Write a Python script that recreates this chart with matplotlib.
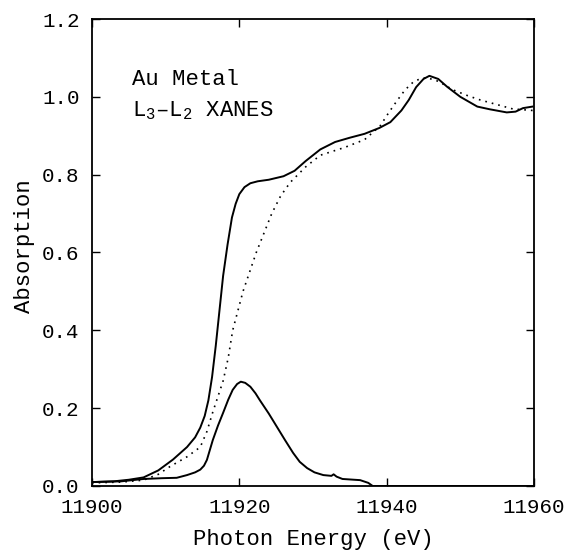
import matplotlib.pyplot as plt

plt.rcParams['font.family'] = ['Liberation Mono', 'DejaVu Sans Mono']
plt.rcParams['mathtext.fontset'] = 'custom'
plt.rcParams['mathtext.rm'] = 'Liberation Mono'
plt.rcParams['mathtext.it'] = 'Liberation Mono'

# Au metal L3 edge (solid), L2 edge (dotted) and their difference
energy_l3 = [11900, 11903, 11905, 11907, 11909, 11911, 11912.9, 11914, 11914.7,
             11915.3, 11915.8, 11916.3, 11916.8, 11917.3, 11917.8, 11918.4,
             11919, 11919.5, 11920, 11920.7, 11921.5, 11922.5, 11924, 11926,
             11927.5, 11929, 11931, 11933, 11935, 11937, 11939, 11940.5, 11942,
             11943, 11944, 11945, 11945.8, 11947, 11948.2, 11950, 11952.3,
             11954, 11956.3, 11957.5, 11958.5, 11959.8]
abs_l3 = [0.010, 0.012, 0.016, 0.022, 0.040, 0.068, 0.100, 0.125, 0.150,
          0.180, 0.220, 0.280, 0.360, 0.450, 0.540, 0.620,
          0.690, 0.725, 0.750, 0.768, 0.778, 0.783, 0.787, 0.796,
          0.810, 0.835, 0.865, 0.884, 0.895, 0.905, 0.920, 0.935, 0.965,
          0.992, 1.025, 1.046, 1.054, 1.046, 1.026, 1.000, 0.975,
          0.968, 0.960, 0.962, 0.971, 0.975]

energy_l2 = [11900, 11904, 11907, 11909, 11910.6, 11912.9, 11914.7, 11915.6,
             11916.4, 11917.1, 11917.8, 11918.5, 11919.1, 11920.5, 11922.3,
             11924.4, 11925.6, 11926.9, 11929, 11931, 11934.3, 11937, 11939.1,
             11940.3, 11941.4, 11942.5, 11943.6, 11944.6, 11945.5, 11947,
             11949, 11951, 11952.7, 11955, 11957.1, 11959.8]
abs_l2 = [0.008, 0.010, 0.015, 0.030, 0.050, 0.075, 0.100, 0.140,
          0.190, 0.230, 0.270, 0.330, 0.400, 0.500, 0.600,
          0.700, 0.745, 0.780, 0.820, 0.850, 0.870, 0.890, 0.925,
          0.960, 0.990, 1.018, 1.038, 1.047, 1.049, 1.040,
          1.018, 1.003, 0.992, 0.980, 0.969, 0.965]

energy_diff = [11900, 11904, 11907, 11909.5, 11911.5, 11912.9, 11914, 11914.7,
               11915.2, 11915.6, 11916.4, 11917.1, 11917.8, 11918.5, 11919.1,
               11919.7, 11920.2, 11920.8, 11921.5, 11922.2, 11922.8, 11924,
               11925.1, 11926.2, 11927.3, 11928.2, 11929.2, 11930.2, 11931.4,
               11932.5, 11932.8, 11933.2, 11934, 11936.4, 11937.5, 11938.1,
               11945, 11960]
abs_diff = [0.010, 0.012, 0.018, 0.020, 0.021, 0.028, 0.035, 0.042,
            0.052, 0.067, 0.118, 0.155, 0.188, 0.222, 0.247,
            0.262, 0.268, 0.265, 0.255, 0.238, 0.220, 0.186,
            0.152, 0.118, 0.085, 0.062, 0.046, 0.035, 0.028,
            0.026, 0.030, 0.024, 0.018, 0.015, 0.008, 0.000,
            0.000, 0.000]

x_ticks = [11900, 11920, 11940, 11960]
y_ticks = [0.0, 0.2, 0.4, 0.6, 0.8, 1.0, 1.2]

fig = plt.figure(figsize=(5.66, 5.53), dpi=100)
ax = fig.add_axes([0.1625, 0.1212, 0.781, 0.8444])

ax.plot(energy_l3, abs_l3, color='black', lw=1.4)
ax.plot(energy_l2, abs_l2, color='black', lw=1.2, linestyle=(0, (1, 3)))
ax.plot(energy_diff, abs_diff, color='black', lw=1.4)

ax.set_xlim(11900, 11960)
ax.set_ylim(0, 1.2)
ax.set_xticks(x_ticks)
ax.set_xticklabels([str(t) for t in x_ticks])
ax.set_yticks(y_ticks)
ax.set_yticklabels([f'{t:.1f}' for t in y_ticks])
ax.tick_params(direction='in', length=6, width=1, top=True, right=True,
               labelsize=15)
ax.tick_params(axis='x', pad=9)
ax.tick_params(axis='y', pad=9)
for s in ax.spines.values():
    s.set_linewidth(1.3)

ax.set_xlabel('Photon Energy (eV)', fontsize=16, labelpad=8)
ax.set_ylabel('Absorption', fontsize=16)
ax.yaxis.set_label_coords(-0.13, 0.514)

ax.text(11905.4, 1.03, 'Au Metal', fontsize=16)
ax.text(11905.4, 0.95, r'L$_{3}$–L$_{2}$ XANES', fontsize=16)

fig.savefig('out.png', dpi=100)
